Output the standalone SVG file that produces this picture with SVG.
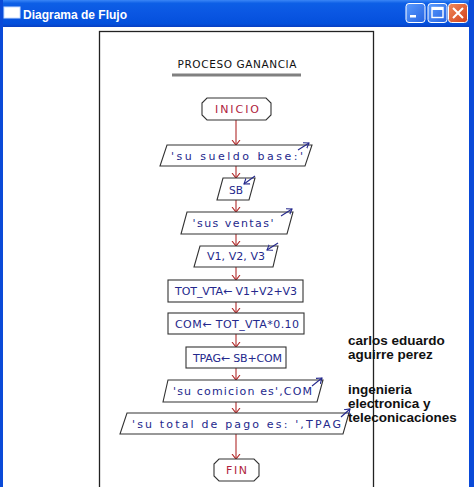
<svg xmlns="http://www.w3.org/2000/svg" width="474" height="487" viewBox="0 0 474 487">
<style>
.shape{fill:#ffffff;stroke:#333333;stroke-width:1.1}
.term{fill:#ffffff;stroke:#333333;stroke-width:1.1}
.t{font-family:"DejaVu Sans","Liberation Sans",sans-serif;font-size:11px;fill:#24288c;text-anchor:middle}
.tr{font-family:"DejaVu Sans","Liberation Sans",sans-serif;font-size:11px;fill:#b0233e;text-anchor:middle}
.conn{stroke:#b02a2a;stroke-width:1.1;fill:none;marker-end:url(#ah)}
.io{stroke:#24288c;stroke-width:1.1;fill:none;marker-end:url(#ab)}
.side{font-family:"Liberation Sans",Arial,sans-serif;font-size:13.5px;font-weight:bold;fill:#111111}
</style>
<defs>
<linearGradient id="tb" x1="0" y1="0" x2="0" y2="1">
<stop offset="0" stop-color="#3a86f6"/>
<stop offset="0.12" stop-color="#0d5fe6"/>
<stop offset="0.5" stop-color="#0a56e2"/>
<stop offset="0.88" stop-color="#0450dc"/>
<stop offset="1" stop-color="#0a3fc2"/>
</linearGradient>
<linearGradient id="bb" x1="0" y1="0" x2="1" y2="1">
<stop offset="0" stop-color="#5a9bff"/>
<stop offset="1" stop-color="#2663e0"/>
</linearGradient>
<linearGradient id="cb" x1="0" y1="0" x2="1" y2="1">
<stop offset="0" stop-color="#f08a5a"/>
<stop offset="1" stop-color="#d2401c"/>
</linearGradient>
<marker id="ah" markerWidth="10" markerHeight="10" refX="5" refY="5" orient="auto" markerUnits="userSpaceOnUse">
<path d="M0,1 L5,5 L0,9" fill="none" stroke="#b02a2a" stroke-width="1.1"/>
</marker>
<marker id="ab" markerWidth="10" markerHeight="10" refX="5" refY="5" orient="auto" markerUnits="userSpaceOnUse">
<path d="M0,1.5 L5,5 L0,8.5" fill="none" stroke="#24288c" stroke-width="1.1"/>
</marker>
</defs>

<!-- window frame -->
<rect x="0" y="0" width="474" height="487" fill="#ffffff"/>
<rect x="0" y="0" width="474" height="27" fill="url(#tb)"/>
<rect x="0" y="0" width="3" height="487" fill="#0a4ad8"/>
<rect x="469" y="0" width="5" height="487" fill="#0a4ad8"/>
<rect x="4" y="7" width="16" height="11" fill="#ffffff" stroke="#c8dcff" stroke-width="1"/>
<text x="23" y="19" font-family="Liberation Sans, Arial, sans-serif" font-size="13" font-weight="bold" fill="#ffffff" textLength="104" lengthAdjust="spacingAndGlyphs">Diagrama de Flujo</text>
<g id="btn-min">
<rect x="406" y="3.5" width="19" height="19" rx="3" fill="url(#bb)" stroke="#ffffff" stroke-width="1"/>
<rect x="410" y="15" width="6" height="2.5" fill="#ffffff"/>
</g>
<g id="btn-max">
<rect x="428" y="3.5" width="19" height="19" rx="3" fill="url(#bb)" stroke="#ffffff" stroke-width="1"/>
<rect x="432" y="7.5" width="11" height="10" fill="none" stroke="#ffffff" stroke-width="1.4"/>
<rect x="432" y="7.5" width="11" height="2.5" fill="#ffffff"/>
</g>
<g id="btn-close">
<rect x="448.5" y="3.5" width="19" height="19" rx="3" fill="url(#cb)" stroke="#ffffff" stroke-width="1"/>
<path d="M453,8 L463,18 M463,8 L453,18" stroke="#ffffff" stroke-width="2"/>
</g>

<!-- paper -->
<rect x="99.5" y="31.5" width="274" height="470" fill="#ffffff" stroke="#222222" stroke-width="1.3"/>
<text x="237" y="68" font-family="DejaVu Sans, Liberation Sans, sans-serif" font-size="10.5px" fill="#111111" text-anchor="middle" textLength="119" lengthAdjust="spacing">PROCESO GANANCIA</text>
<rect x="172" y="73.5" width="129" height="3" fill="#808080"/>

<!-- connectors -->
<g id="connectors">
<line class="conn" x1="236" y1="120" x2="236" y2="145"/>
<line class="conn" x1="236" y1="166" x2="236" y2="178"/>
<line class="conn" x1="236" y1="200" x2="236" y2="212"/>
<line class="conn" x1="236" y1="234" x2="236" y2="246"/>
<line class="conn" x1="236" y1="267" x2="236" y2="280"/>
<line class="conn" x1="236" y1="302" x2="236" y2="313"/>
<line class="conn" x1="236" y1="334" x2="236" y2="347"/>
<line class="conn" x1="236" y1="368" x2="236" y2="380"/>
<line class="conn" x1="236" y1="402" x2="236" y2="413"/>
<line class="conn" x1="236" y1="434" x2="236" y2="459"/>
</g>

<g id="inicio">
<polygon class="term" points="207,98 266,98 271,103 271,115 266,120 207,120 202,115 202,103"/>
<text class="tr" x="237" y="112.5" textLength="44" lengthAdjust="spacing">INICIO</text>
</g>

<g id="out-sueldo">
<polygon class="shape" points="167,145 312,145 305,166 160,166"/>
<text class="t" x="237" y="160" textLength="132" lengthAdjust="spacing">'su sueldo base:'</text>
<line class="io" x1="298" y1="150" x2="309" y2="143"/>
</g>

<g id="in-sb">
<polygon class="shape" points="223,178 255,178 249,200 217,200"/>
<text class="t" x="236" y="193.5" textLength="14" lengthAdjust="spacingAndGlyphs">SB</text>
<line class="io" x1="255" y1="176" x2="244" y2="184"/>
</g>

<g id="out-ventas">
<polygon class="shape" points="187,212 293,212 287,234 181,234"/>
<text class="t" x="233" y="227" textLength="81" lengthAdjust="spacing">'sus ventas'</text>
<line class="io" x1="281" y1="216" x2="292" y2="209"/>
</g>

<g id="in-v">
<polygon class="shape" points="200,246 278,246 273,267 194,267"/>
<text class="t" x="236" y="260" textLength="58" lengthAdjust="spacing">V1, V2, V3</text>
<line class="io" x1="278" y1="243" x2="267" y2="250"/>
</g>

<g id="tot-vta">
<rect class="shape" x="168" y="280" width="135" height="22"/>
<text class="t" x="236" y="295" textLength="122" lengthAdjust="spacing">TOT_VTA← V1+V2+V3</text>
</g>

<g id="com">
<rect class="shape" x="168" y="313" width="136" height="21"/>
<text class="t" x="237" y="327.5" textLength="124" lengthAdjust="spacing">COM← TOT_VTA*0.10</text>
</g>

<g id="tpag">
<rect class="shape" x="186" y="347" width="100" height="21"/>
<text class="t" x="237.5" y="361.5" textLength="89" lengthAdjust="spacing">TPAG← SB+COM</text>
</g>

<g id="out-comicion">
<polygon class="shape" points="168,380 323,380 317,402 163,402"/>
<text class="t" x="242.5" y="395" textLength="139" lengthAdjust="spacing">'su comicion es',COM</text>
<line class="io" x1="312" y1="386" x2="322" y2="378"/>
</g>

<g id="out-total">
<polygon class="shape" points="127,413 349,413 343,434 120,434"/>
<text class="t" x="236.5" y="427.5" textLength="209" lengthAdjust="spacing">'su total de pago es: ',TPAG</text>
<line class="io" x1="341" y1="417" x2="350" y2="409"/>
</g>

<g id="fin">
<polygon class="term" points="219,459 254,459 259,464 259,476 254,481 219,481 214,476 214,464"/>
<text class="tr" x="236.5" y="474" textLength="21" lengthAdjust="spacing">FIN</text>
</g>

<g id="notes">
<text class="side" x="348" y="345">carlos eduardo</text>
<text class="side" x="348" y="359">aguirre perez</text>
<text class="side" x="348" y="394">ingenieria</text>
<text class="side" x="348" y="408">electronica  y</text>
<text class="side" x="348" y="422">teleconicaciones</text>
</g>
</svg>
